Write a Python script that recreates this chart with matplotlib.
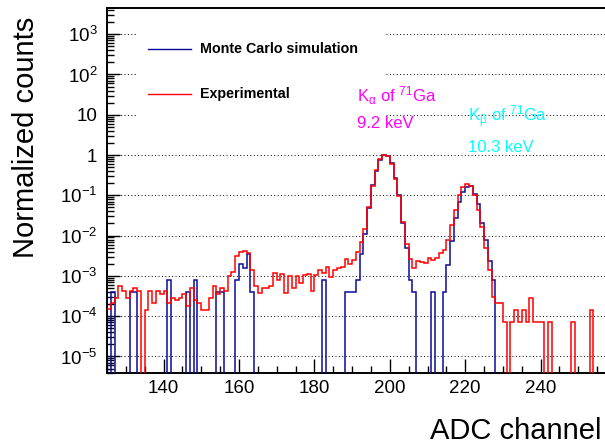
"""
ADC spectrum of the Ga K lines: experimental data vs Monte Carlo,
drawn ROOT-style (log y axis, step histograms, dotted decade grid).
"""

import numpy as np
import matplotlib.pyplot as plt
from matplotlib.lines import Line2D
from matplotlib.patches import Rectangle
from matplotlib.ticker import MultipleLocator, LogLocator, NullFormatter

plt.rcParams['font.family'] = ['Liberation Sans', 'DejaVu Sans']
plt.rcParams['mathtext.fontset'] = 'custom'
plt.rcParams['mathtext.rm'] = 'Liberation Sans'
plt.rcParams['mathtext.it'] = 'Liberation Sans'
plt.rcParams['mathtext.bf'] = 'Liberation Sans:bold'

# one bin per ADC channel, first bin = channel 125
first_channel = 125

experimental = [
    # 125-134
    1.5e-4, 2.1e-4, 2.8e-4, 5.6e-4, 4.2e-4, 2.8e-4, 4.2e-4, 4.9e-4, 4.2e-4, 0,
    # 135-144
    1.4e-4, 4.2e-4, 2.1e-4, 4.2e-4, 3.5e-4, 4.2e-4, 2.1e-4, 2.8e-4, 2.5e-4, 2.8e-4,
    # 145-154
    3.5e-4, 1.8e-4, 4.9e-4, 2.5e-4, 2.1e-4, 1.4e-4, 1.4e-4, 2.8e-4, 5.6e-4, 3.5e-4,
    # 155-164
    4.9e-4, 4.2e-4, 9.8e-4, 1.26e-3, 3.1e-3, 3.9e-3, 4.2e-3, 3.6e-3, 1.38e-3, 5.7e-4,
    # 165-174
    3.8e-4, 4.9e-4, 4.9e-4, 5.6e-4, 1.2e-3, 8.1e-4, 1.14e-3, 3.8e-4, 9.8e-4, 4.9e-4,
    # 175-184
    1.0e-3, 6.6e-4, 1.07e-3, 1.12e-3, 4.3e-4, 1.07e-3, 1.4e-3, 1.17e-3, 1.7e-3, 9.6e-4,
    # 185-194
    1.4e-3, 1.55e-3, 1.64e-3, 2.7e-3, 2.0e-3, 2.5e-3, 4.0e-3, 7.1e-3, 0.0149, 0.050,
    # 195-204
    0.17, 0.42, 0.78, 1.0, 0.94, 0.60, 0.26, 0.095, 0.022, 6.3e-3,
    # 205-214
    2.6e-3, 1.6e-3, 2.35e-3, 2.2e-3, 2.1e-3, 2.8e-3, 2.5e-3, 2.8e-3, 3.6e-3, 4.3e-3,
    # 215-224
    7.6e-3, 0.018, 0.044, 0.10, 0.16, 0.187, 0.166, 0.10, 0.044, 0.016,
    # 225-234
    4.8e-3, 1.38e-3, 3.0e-4, 2.1e-4, 2.1e-4, 7e-5, 0, 7e-5, 1.4e-4, 7e-5,
    # 235-244
    1.4e-4, 7e-5, 2.8e-4, 7e-5, 7e-5, 7e-5, 0, 7e-5, 0, 0,
    # 245-254
    0, 0, 0, 7e-5, 0, 0, 0, 0, 1.4e-4, 0,
    # 255-257
    0, 0, 0,
]

monte_carlo = [
    # 125-134
    0, 4e-4, 0, 0, 0, 0, 4e-4, 4e-4, 0, 0,
    # 135-144
    0, 0, 0, 0, 0, 0, 8e-4, 0, 0, 0,
    # 145-154
    0, 4e-4, 0, 8e-4, 0, 0, 0, 0, 0, 4e-4,
    # 155-164
    4e-4, 0, 0, 0, 8e-4, 2.0e-3, 1.6e-3, 3.5e-3, 4e-4, 0,
    # 165-174
    0, 0, 0, 0, 0, 0, 0, 0, 0, 0,
    # 175-184
    0, 0, 0, 0, 0, 0, 0, 8e-4, 0, 0,
    # 185-194
    0, 0, 0, 4e-4, 4e-4, 4e-4, 8e-4, 3.5e-3, 0.011, 0.049,
    # 195-204
    0.177, 0.40, 0.75, 0.98, 0.97, 0.62, 0.27, 0.10, 0.021, 5.0e-3,
    # 205-214
    8e-4, 4e-4, 0, 0, 0, 0, 4e-4, 0, 0, 4e-4,
    # 215-224
    1.9e-3, 7.3e-3, 0.028, 0.068, 0.12, 0.16, 0.175, 0.11, 0.062, 0.021,
    # 225-234
    7.9e-3, 2.4e-3, 8e-4, 0, 0, 0, 0, 0, 0, 0,
    # 235-244
    0, 0, 0, 0, 0, 0, 0, 0, 0, 0,
    # 245-254
    0, 0, 0, 0, 0, 0, 0, 0, 0, 0,
    # 255-257
    0, 0, 0,
]

y_decades = [1e-5, 1e-4, 1e-3, 1e-2, 1e-1, 1, 10, 1e2, 1e3]
y_labels = ['10$^{-5}$', '10$^{-4}$', '10$^{-3}$', '10$^{-2}$', '10$^{-1}$',
            '1', '10', '10$^{2}$', '10$^{3}$']

MC_COLOR = '#0a0a9a'
EXP_COLOR = '#ff0000'

W, H = 605, 445


def fig_xy(x, y):
    """pixel position (from top-left) -> figure fraction"""
    return x / W, 1 - y / H


fig = plt.figure(figsize=(W / 100, H / 100), dpi=100)
ax = fig.add_axes([107 / W, 1 - 373 / H, 501.5 / W, 365 / H])

edges = np.arange(first_channel, first_channel + len(experimental) + 1)

# empty bins go to the bottom of the frame, as ROOT draws them
floor = 1e-7
mc = np.asarray(monte_carlo, dtype=float)
ex = np.asarray(experimental, dtype=float)
ax.stairs(np.where(mc > 0, mc, floor), edges, baseline=None,
          color=MC_COLOR, lw=1.1, zorder=3)
ax.stairs(np.where(ex > 0, ex, floor), edges, baseline=None,
          color=EXP_COLOR, lw=1.1, zorder=4)

ax.set_yscale('log')
ax.set_xlim(125, 258)
ax.set_ylim(10 ** -5.41, 10 ** 3.65)

ax.set_yticks(y_decades)
ax.set_yticklabels(y_labels)
ax.yaxis.set_minor_locator(LogLocator(base=10, subs=np.arange(2, 10), numticks=30))
ax.yaxis.set_minor_formatter(NullFormatter())
ax.xaxis.set_major_locator(MultipleLocator(20))
ax.xaxis.set_minor_locator(MultipleLocator(5))

ax.tick_params(which='both', direction='in', top=False, right=False,
               labelsize=13.5, width=1.0)
ax.tick_params(axis='y', which='major', length=9, pad=7)
ax.tick_params(axis='y', which='minor', length=5)
ax.tick_params(axis='x', which='major', length=10, pad=5)
ax.tick_params(axis='x', which='minor', length=5)

ax.set_axisbelow(True)
ax.yaxis.grid(True, which='major', color='black', lw=0.7, linestyle=(0, (1, 2.5)))

for side in ('left', 'bottom', 'top'):
    ax.spines[side].set_linewidth(1.4)
ax.spines['right'].set_visible(False)

# legend: white box without border hiding the grid
x0, y0 = fig_xy(138, 128)
x1, y1 = fig_xy(385, 18)
fig.add_artist(Rectangle((x0, y0), x1 - x0, y1 - y0, transform=fig.transFigure,
                         facecolor='white', edgecolor='none', zorder=5))
for label, color, ypix in [('Monte Carlo simulation', MC_COLOR, 49),
                           ('Experimental', EXP_COLOR, 94)]:
    lx0, ly = fig_xy(148, ypix)
    lx1, _ = fig_xy(191, ypix)
    fig.add_artist(Line2D([lx0, lx1], [ly, ly], transform=fig.transFigure,
                          color=color, lw=1.0, zorder=6))
    tx, ty = fig_xy(200, ypix)
    fig.text(tx, ty, label, fontsize=10.3, fontweight='bold',
             va='center', ha='left', zorder=6)

# line annotations
fig.text(*fig_xy(357, 101.7), r'K$_{\alpha}$ of $^{71}$Ga', color='#ff00ff',
         fontsize=12, va='baseline', zorder=7)
fig.text(*fig_xy(357, 128.3), '9.2 keV', color='#ff00ff',
         fontsize=12, va='baseline', zorder=7)
fig.text(*fig_xy(468, 121.7), r'K$_{\beta}$ of $^{71}$Ga', color='#00ffff',
         fontsize=12, va='baseline', zorder=7)
fig.text(*fig_xy(468, 151.7), '10.3 keV', color='#00ffff',
         fontsize=12, va='baseline', zorder=7)

# axis titles
fig.text(*fig_xy(601, 439), 'ADC channel', fontsize=21, ha='right', va='baseline')
fig.text(*fig_xy(26, 137), 'Normalized counts', fontsize=21, rotation=90,
         ha='center', va='center')

fig.savefig('out.png', dpi=100)
